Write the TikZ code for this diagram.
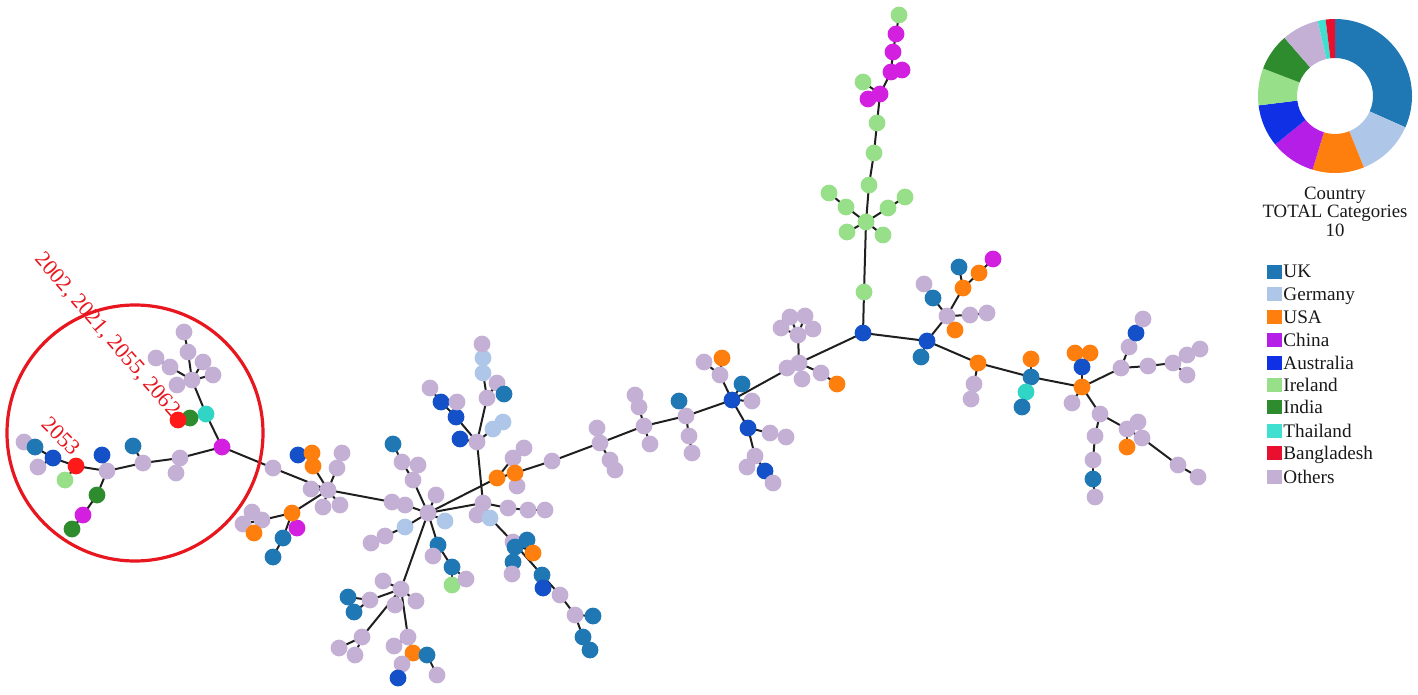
\documentclass[tikz,border=0pt]{standalone}
\usepackage{fontspec}
\setmainfont{Liberation Serif}
\usetikzlibrary{backgrounds}
\definecolor{cUK}{HTML}{1F77B4}
\definecolor{cDE}{HTML}{AEC7E8}
\definecolor{cUS}{HTML}{FF7F0E}
\definecolor{cCN}{HTML}{D21FE0}
\definecolor{cCNl}{HTML}{B41EE6}
\definecolor{cAU}{HTML}{1450C8}
\definecolor{cAUl}{HTML}{1030E6}
\definecolor{cIE}{HTML}{98DF8A}
\definecolor{cIN}{HTML}{2E8B2E}
\definecolor{cTH}{HTML}{30D5C5}
\definecolor{cTHl}{HTML}{40E0D0}
\definecolor{cBD}{HTML}{FF1A1A}
\definecolor{cBDl}{HTML}{E8102E}
\definecolor{cOT}{HTML}{C5B0D5}
\definecolor{cRing}{HTML}{E8161E}
\begin{document}
\begin{tikzpicture}[x=0.5pt,y=-0.5pt,
  dot/.style={circle,inner sep=0pt,minimum size=8.4pt},
  nUK/.style={dot,fill=cUK}, nDE/.style={dot,fill=cDE}, nUS/.style={dot,fill=cUS},
  nCN/.style={dot,fill=cCN}, nAU/.style={dot,fill=cAU}, nIE/.style={dot,fill=cIE},
  nIN/.style={dot,fill=cIN}, nTH/.style={dot,fill=cTH}, nBD/.style={dot,fill=cBD},
  nOT/.style={dot,fill=cOT},
  edge/.style={line width=1pt,black!88},
  legtxt/.style={inner sep=0pt,anchor=base west,font=\fontsize{9.6}{11}\selectfont,text=black!90},
  ctxt/.style={inner sep=0pt,anchor=base,font=\fontsize{9.4}{11}\selectfont,text=black!90},
  redlab/.style={inner sep=0pt,text=cRing,font=\fontsize{11}{13}\selectfont}]
\useasboundingbox (0,0) rectangle (1418,695);
% ---------------- left cluster
\node[nOT] (L1) at (192,380) {};
\node[nOT] (L2) at (184,332) {};
\node[nOT] (L3) at (188,352) {};
\node[nOT] (L4) at (156,358) {};
\node[nOT] (L5) at (170,367) {};
\node[nOT] (L6) at (203,362) {};
\node[nOT] (L7) at (213,375) {};
\node[nOT] (L8) at (177,385) {};
\node[nTH] (L9) at (206,414) {};
\node[nIN] (L10) at (190,418) {};
\node[nBD] (L11) at (178,420) {};
\node[nCN] (L12) at (222,447) {};
\node[nOT] (L13) at (180,458) {};
\node[nOT] (L14) at (176,473) {};
\node[nOT] (L15) at (143,463) {};
\node[nUK] (L16) at (133,446) {};
\node[nOT] (L17) at (107,471) {};
\node[nAU] (L18) at (102,455) {};
\node[nIE] (L20) at (65,480) {};
\node[nBD] (L19) at (76,466) {};
\node[nIN] (L21) at (97,495) {};
\node[nCN] (L22) at (83,515) {};
\node[nIN] (L23) at (72,529) {};
\node[nOT] (L26) at (24,442) {};
\node[nUK] (L25) at (35,447) {};
\node[nAU] (L24) at (53,458) {};
\node[nOT] (L27) at (38,467) {};
% ---------------- hub 2
\node[nOT] (H2) at (328,490) {};
\node[nOT] (A1) at (273,468) {};
\node[nAU] (A2) at (298,455) {};
\node[nUS] (A3) at (312,453) {};
\node[nUS] (A4) at (313,466) {};
\node[nOT] (A5) at (342,453) {};
\node[nOT] (A6) at (337,468) {};
\node[nOT] (A7) at (311,489) {};
\node[nOT] (A8) at (323,507) {};
\node[nOT] (A9) at (340,505) {};
\node[nCN] (A11) at (297,528) {};
\node[nUS] (A10) at (292,513) {};
\node[nUK] (A12) at (283,538) {};
\node[nUK] (A13) at (273,557) {};
\node[nOT] (A15) at (252,512) {};
\node[nOT] (A16) at (243,524) {};
\node[nOT] (A14) at (262,520) {};
\node[nUS] (A17) at (254,533) {};
% ---------------- big hub
\node[nOT] (B1) at (392,502) {};
\node[nOT] (B2) at (405,505) {};
\node[nOT] (BH) at (428,513) {};
\node[nOT] (B3) at (413,480) {};
\node[nOT] (B4) at (402,462) {};
\node[nOT] (B5) at (418,465) {};
\node[nUK] (B6) at (393,444) {};
\node[nOT] (B7) at (436,495) {};
\node[nDE] (B8) at (445,521) {};
\node[nDE] (B9) at (405,527) {};
\node[nOT] (B10) at (385,536) {};
\node[nOT] (B11) at (371,543) {};
\node[nUK] (B12) at (438,545) {};
\node[nOT] (B13) at (433,556) {};
\node[nUK] (B14) at (452,567) {};
\node[nIE] (B15) at (452,585) {};
\node[nOT] (B16) at (466,579) {};
% ---------------- sub hub
\node[nOT] (S) at (401,589) {};
\node[nOT] (S1) at (383,581) {};
\node[nOT] (S2) at (370,600) {};
\node[nUK] (S3) at (348,597) {};
\node[nUK] (S4) at (354,612) {};
\node[nOT] (S5) at (395,605) {};
\node[nOT] (S6) at (416,601) {};
\node[nOT] (S7) at (362,637) {};
\node[nOT] (S8) at (339,648) {};
\node[nOT] (S9) at (355,655) {};
\node[nOT] (S10) at (408,637) {};
\node[nOT] (S11) at (394,646) {};
\node[nUS] (S12) at (413,653) {};
\node[nUK] (S13) at (427,655) {};
\node[nOT] (S14) at (437,675) {};
\node[nOT] (S15) at (402,664) {};
\node[nAU] (S16) at (398,678) {};
% ---------------- vertical hub and upper
\node[nOT] (V) at (477,442) {};
\node[nAU] (V1) at (460,439) {};
\node[nAU] (V2) at (456,417) {};
\node[nAU] (V3) at (441,402) {};
\node[nOT] (V4) at (430,388) {};
\node[nOT] (V5) at (457,402) {};
\node[nDE] (V6) at (493,429) {};
\node[nDE] (V7) at (503,422) {};
\node[nOT] (U) at (487,398) {};
\node[nDE] (U1) at (483,373) {};
\node[nDE] (U2) at (483,358) {};
\node[nOT] (U3) at (482,344) {};
\node[nOT] (U4) at (497,383) {};
\node[nUK] (U5) at (504,394) {};
\node[nOT] (W) at (483,503) {};
\node[nOT] (W1) at (477,515) {};
\node[nDE] (W2) at (490,518) {};
\node[nOT] (W3) at (508,508) {};
\node[nOT] (W4) at (528,510) {};
\node[nOT] (W5) at (545,510) {};
% chain down-right
\node[nOT] (X1) at (513,542) {};
\node[nUK] (X2) at (527,540) {};
\node[nUK] (X3) at (515,547) {};
\node[nUS] (X4) at (533,553) {};
\node[nUK] (X5) at (513,562) {};
\node[nOT] (X6) at (512,574) {};
\node[nUK] (X7) at (542,575) {};
\node[nAU] (X8) at (543,588) {};
\node[nOT] (X9) at (560,595) {};
\node[nOT] (X10) at (575,615) {};
\node[nUK] (X11) at (593,616) {};
\node[nUK] (X12) at (583,637) {};
\node[nUK] (X13) at (590,650) {};
% oranges
\node[nOT] (O3) at (513,458) {};
\node[nOT] (O4) at (524,448) {};
\node[nOT] (O5) at (517,486) {};
\node[nUS] (O1) at (497,478) {};
\node[nUS] (O2) at (515,473) {};
\node[nOT] (P1) at (552,461) {};
% ---------------- main spine
\node[nOT] (R2) at (597,428) {};
\node[nOT] (R1) at (600,443) {};
\node[nOT] (R3) at (610,460) {};
\node[nOT] (R4) at (615,470) {};
\node[nOT] (Q) at (644,426) {};
\node[nOT] (Q1) at (639,407) {};
\node[nOT] (Q2) at (635,395) {};
\node[nOT] (Q3) at (650,444) {};
\node[nOT] (T) at (686,416) {};
\node[nUK] (T1) at (679,401) {};
\node[nOT] (T2) at (689,436) {};
\node[nOT] (T3) at (692,453) {};
\node[nAU] (AH) at (732,400) {};
\node[nUK] (AH1) at (742,384) {};
\node[nOT] (AH2) at (752,401) {};
\node[nOT] (AH3) at (720,375) {};
\node[nUS] (AH4) at (722,358) {};
\node[nOT] (AH5) at (704,362) {};
\node[nAU] (AH6) at (748,428) {};
\node[nOT] (AH7) at (770,433) {};
\node[nOT] (AH8) at (786,437) {};
\node[nOT] (AH9) at (755,456) {};
\node[nOT] (AH10) at (747,467) {};
\node[nAU] (AH11) at (765,471) {};
\node[nOT] (AH12) at (773,483) {};
\node[nOT] (G) at (799,363) {};
\node[nOT] (G1) at (787,368) {};
\node[nOT] (G2) at (802,379) {};
\node[nOT] (G3) at (821,373) {};
\node[nUS] (G4) at (837,384) {};
\node[nOT] (G5) at (798,335) {};
\node[nOT] (G6) at (790,317) {};
\node[nOT] (G7) at (805,316) {};
\node[nOT] (G8) at (781,328) {};
\node[nOT] (G9) at (813,329) {};
\node[nAU] (Z) at (863,333) {};
% ---------------- top branch
\node[nIE] (Y1) at (864,292) {};
\node[nIE] (Y2) at (866,222) {};
\node[nIE] (Y3) at (847,232) {};
\node[nIE] (Y4) at (883,235) {};
\node[nIE] (Y5) at (846,207) {};
\node[nIE] (Y6) at (829,193) {};
\node[nIE] (Y7) at (888,208) {};
\node[nIE] (Y8) at (905,197) {};
\node[nIE] (Y9) at (869,185) {};
\node[nIE] (Y10) at (874,153) {};
\node[nIE] (Y11) at (877,123) {};
\node[nIE] (Y14) at (863,82) {};
\node[nCN] (Y12) at (880,94) {};
\node[nCN] (Y13) at (868,99) {};
\node[nCN] (Y16) at (902,70) {};
\node[nCN] (Y15) at (891,72) {};
\node[nCN] (Y17) at (893,52) {};
\node[nCN] (Y18) at (896,34) {};
\node[nIE] (Y19) at (899,15) {};
% ---------------- right branch
\node[nAU] (K) at (927,341) {};
\node[nUK] (K1) at (921,357) {};
\node[nOT] (K2) at (947,316) {};
\node[nOT] (K3) at (924,284) {};
\node[nUK] (K4) at (933,298) {};
\node[nUS] (K5) at (963,288) {};
\node[nUK] (K6) at (959,267) {};
\node[nUS] (K7) at (979,273) {};
\node[nCN] (K8) at (993,259) {};
\node[nOT] (K9) at (970,315) {};
\node[nOT] (K10) at (987,313) {};
\node[nUS] (K11) at (955,330) {};
\node[nUS] (M) at (978,363) {};
\node[nOT] (M1) at (974,384) {};
\node[nOT] (M2) at (971,399) {};
\node[nUK] (N) at (1031,377) {};
\node[nUS] (N1) at (1031,359) {};
\node[nTH] (N2) at (1026,392) {};
\node[nUK] (N3) at (1022,407) {};
\node[nUS] (F) at (1082,387) {};
\node[nUS] (F2) at (1075,353) {};
\node[nUS] (F3) at (1090,353) {};
\node[nAU] (F1) at (1082,367) {};
\node[nOT] (F4) at (1072,403) {};
\node[nOT] (E1) at (1121,368) {};
\node[nOT] (E2) at (1129,347) {};
\node[nAU] (E3) at (1136,333) {};
\node[nOT] (E4) at (1143,319) {};
\node[nOT] (E5) at (1148,366) {};
\node[nOT] (E6) at (1173,363) {};
\node[nOT] (E7) at (1187,355) {};
\node[nOT] (E8) at (1200,349) {};
\node[nOT] (E9) at (1187,375) {};
\node[nOT] (D1) at (1100,414) {};
\node[nOT] (D2) at (1095,436) {};
\node[nOT] (D3) at (1093,460) {};
\node[nUK] (D4) at (1093,479) {};
\node[nOT] (D5) at (1095,497) {};
\node[nOT] (D6) at (1127,429) {};
\node[nOT] (D7) at (1138,422) {};
\node[nOT] (D8) at (1142,438) {};
\node[nOT] (D9) at (1178,465) {};
\node[nOT] (D10) at (1198,477) {};
\node[nUS] (D11) at (1127,447) {};
% ---------------- edges
\begin{pgfonlayer}{background}
\foreach \a/\b in {L1/L3,L3/L2,L1/L5,L5/L4,L1/L6,L1/L7,L1/L8,L1/L9,L9/L10,L10/L11,L9/L12,
  L12/L13,L13/L14,L13/L15,L15/L16,L15/L17,L17/L18,L17/L19,L19/L20,L17/L21,L21/L22,L22/L23,
  L19/L24,L24/L27,L24/L25,L25/L26,L12/A1,A1/H2,
  H2/A4,A4/A3,A3/A2,H2/A6,A6/A5,H2/A7,H2/A8,H2/A9,H2/A10,A10/A11,A10/A12,A12/A13,
  A10/A14,A14/A15,A14/A16,A14/A17,H2/B1,B1/B2,B2/BH,
  BH/B3,B3/B4,B4/B6,B3/B5,BH/B7,BH/B8,BH/B9,B9/B10,B10/B11,BH/B12,B12/B13,B12/B14,B14/B15,B14/B16,
  BH/S,S/S1,S/S2,S2/S3,S2/S4,S/S5,S/S6,S/S7,S7/S8,S7/S9,S/S10,S10/S11,S10/S12,S12/S13,S13/S14,S12/S15,S15/S16,
  BH/O1,O1/O2,O1/O3,O3/O4,O2/O5,O2/P1,
  BH/W,V/W,W/W1,W/W2,W/W3,W3/W4,W4/W5,
  V/V1,V/V2,V2/V3,V3/V4,V2/V5,V/V6,V6/V7,V/U,U/U1,U1/U2,U2/U3,U/U4,U4/U5,
  W2/X1,X1/X2,X1/X3,X1/X4,X3/X5,X5/X6,X1/X7,X7/X8,X7/X9,X9/X10,X10/X11,X10/X12,X12/X13,
  P1/R1,R1/R2,R1/R3,R3/R4,R1/Q,Q/Q1,Q1/Q2,Q/Q3,Q/T,T/T1,T/T2,T2/T3,
  T/AH,AH/AH1,AH/AH2,AH/AH3,AH3/AH4,AH3/AH5,AH/AH6,AH6/AH7,AH7/AH8,AH6/AH9,AH9/AH10,AH9/AH11,AH11/AH12,
  AH/G,G/G1,G/G2,G/G3,G3/G4,G/G5,G5/G6,G5/G7,G5/G8,G5/G9,G/Z,
  Z/Y1,Y1/Y2,Y2/Y3,Y2/Y4,Y2/Y5,Y5/Y6,Y2/Y7,Y7/Y8,Y2/Y9,Y9/Y10,Y10/Y11,Y11/Y12,Y12/Y13,Y12/Y14,
  Y12/Y15,Y15/Y16,Y15/Y17,Y17/Y18,Y18/Y19,
  Z/K,K/K1,K/K2,K2/K4,K4/K3,K2/K5,K5/K6,K5/K7,K7/K8,K2/K9,K9/K10,K2/K11,
  K/M,M/M1,M1/M2,M/N,N/N1,N/N2,N2/N3,N/F,F/F1,F1/F2,F1/F3,F/F4,
  F/E1,E1/E2,E2/E3,E3/E4,E1/E5,E5/E6,E6/E7,E7/E8,E6/E9,
  F/D1,D1/D2,D2/D3,D3/D4,D4/D5,D1/D6,D6/D7,D6/D8,D8/D9,D9/D10,D6/D11}
  \draw[edge] (\a.center) -- (\b.center);
\end{pgfonlayer}
% ---------------- red ring and labels
\node[draw=cRing,line width=1.6pt,circle,minimum size=128pt,inner sep=0pt] (ring) at (135,433) {};
\node[redlab,rotate=-49] (lab1) at (107,335) {2002, 2021, 2055, 2062};
\node[redlab,rotate=-45] (lab2) at (61,436) {2053};
% ---------------- donut
\coordinate (dc) at (1335,96);
\begin{scope}[shift={(dc)},x=0.5pt,y=0.5pt]
\foreach \s/\e/\c in {90/-24/cUK,-24/-68/cDE,-68/-107/cUS,-107/-141/cCNl,-141/-173/cAUl,
   -173/-201/cIE,-201/-229/cIN,-229/-257/cOT,-257/-263/cTHl,-263/-270/cBDl}
  \fill[\c] (\s:77) arc[start angle=\s,end angle=\e,radius=77] -- (\e:38)
     arc[start angle=\e,end angle=\s,radius=38] -- cycle;
\end{scope}
\node[ctxt] (t1) at (1335,200) {Country};
\node[ctxt] (t2) at (1335,218) {TOTAL Categories};
\node[ctxt] (t3) at (1335,236) {10};
% ---------------- legend
\foreach \i/\c/\t/\y in {1/cUK/UK/272,2/cDE/Germany/294,3/cUS/USA/317,4/cCNl/China/340,
   5/cAUl/Australia/363,6/cIE/Ireland/385,7/cIN/India/407,8/cTHl/Thailand/431,
   9/cBDl/Bangladesh/453,10/cOT/Others/477}{
  \node[fill=\c,minimum width=7.5pt,minimum height=7.2pt,inner sep=0pt] (sw\i) at (1274.5,\y) {};
  \node[legtxt] (lt\i) at (1283,\y+6) {\t};
}
\end{tikzpicture}
\end{document}
